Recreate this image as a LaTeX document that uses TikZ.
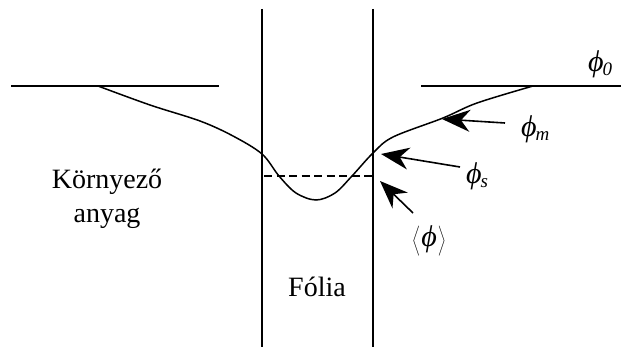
\documentclass[tikz,border=0pt]{standalone}
\usepackage{fontspec}
\setmainfont{Liberation Serif}
\usetikzlibrary{arrows.meta}
\newcommand{\phs}[1]{\textit{ϕ}\kern-1pt\raisebox{-4pt}{\fontsize{19}{19}\selectfont\textit{#1}}}
\newcommand{\tallstrut}{\rule[-9pt]{0pt}{35pt}}
\begin{document}
\begin{tikzpicture}[x=1pt,y=-1pt,
  line/.style={line width=1.5pt},
  pointer/.style={line width=1.6pt,-{Stealth[length=28pt,width=22pt,inset=9pt]}},
  lbl/.style={font=\fontsize{28}{34}\selectfont,inner sep=0pt,anchor=base},
  sym/.style={font=\fontsize{30}{32}\selectfont,inner sep=0pt,anchor=base west}]
\useasboundingbox (0,0) rectangle (621,347);
% levels
\draw[line] (11,86) -- (219,86);
\draw[line] (421,86) -- (621,86);
% film walls
\draw[line] (262,9) -- (262,347);
\draw[line] (373,9) -- (373,347);
% profile
\draw[line] plot[smooth,tension=0.55] coordinates {(98,86) (150,105) (200,121) (233,136) (262,154) (279,176) (296,193) (316,200) (335,193) (352,176) (373,153) (393,137) (443,118) (477,103) (533,86)};
% mean level
\draw[line width=1.2pt,dash pattern=on 8pt off 4.5pt] (264,176) -- (373,176);
% labels
\node[lbl] (env1) at (107,189) {Környező};
\node[lbl] (env2) at (107,223) {anyag};
\node[lbl] (film) at (317,297) {Fólia};
\node[sym] (p0) at (588,72) {\phs{0}};
\node[sym] (pm) at (521,137) {\phs{m}};
\node[sym] (ps) at (466,184) {\phs{s}};
\node[sym,font=\fontsize{30}{32}\selectfont] (pa) at (412,247) {$\left\langle\tallstrut\hbox{\kern1pt\textit{ϕ}\kern1pt}\right\rangle$};
% arrows
\coordinate (mA) at (505,123); \coordinate (mB) at (442,119);
\coordinate (sA) at (460,167); \coordinate (sB) at (381,154);
\coordinate (aA) at (413,213); \coordinate (aB) at (380,181);
\draw[pointer] (mA) -- (mB);
\draw[pointer] (sA) -- (sB);
\draw[pointer] (aA) -- (aB);
\end{tikzpicture}
\end{document}
